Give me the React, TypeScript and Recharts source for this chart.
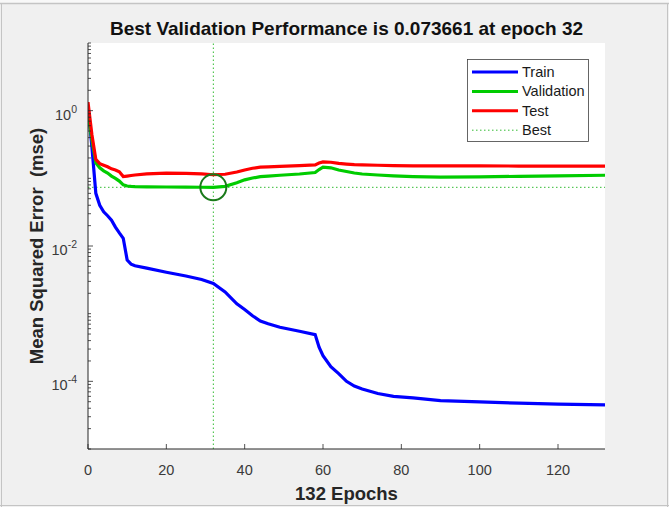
import React from 'react';
import {
  LineChart,
  Line,
  XAxis,
  YAxis,
  CartesianGrid,
  ReferenceLine,
  ReferenceDot,
} from 'recharts';

// ---------- data ----------
const epochs = [
  0, 1, 2, 3, 4, 5, 6, 7, 8, 9, 10, 11, 12, 15, 20, 25, 29, 32, 35, 38, 40, 42, 44, 46, 49, 54,
  58, 59, 60, 62, 64, 66, 68, 70, 74, 78, 83, 90, 100, 110, 120, 132,
];

const trainMse = [
  1.2, 0.29, 0.06, 0.04, 0.032, 0.028, 0.024, 0.019, 0.0156, 0.013, 0.0062, 0.0054, 0.0051,
  0.0047, 0.0041, 0.0036, 0.0032, 0.0028, 0.0021, 0.0014, 0.00115, 0.00093, 0.00078, 0.00071,
  0.00063, 0.00055, 0.00049, 0.00032, 0.00024, 0.000165, 0.00013, 0.0001, 0.000085, 0.000077,
  0.000066, 0.00006, 0.000057, 0.000052, 0.0000497, 0.0000475, 0.000046, 0.000045,
];

const validationMse = [
  0.9, 0.37, 0.17, 0.143, 0.129, 0.12, 0.108, 0.1, 0.091, 0.08, 0.077, 0.076, 0.0755, 0.075,
  0.0745, 0.074, 0.0738, 0.073661, 0.076, 0.086, 0.095, 0.101, 0.106, 0.108, 0.111, 0.116, 0.122,
  0.135, 0.146, 0.143, 0.133, 0.126, 0.12, 0.116, 0.112, 0.109, 0.106, 0.104, 0.105, 0.107,
  0.109, 0.111,
];

const testMse = [
  1.34, 0.44, 0.19, 0.165, 0.156, 0.148, 0.138, 0.133, 0.125, 0.106, 0.108, 0.11, 0.112, 0.116,
  0.119, 0.118, 0.116, 0.113, 0.115, 0.124, 0.133, 0.141, 0.146, 0.148, 0.15, 0.154, 0.158,
  0.168, 0.175, 0.173, 0.166, 0.162, 0.159, 0.158, 0.156, 0.154, 0.153, 0.153, 0.153, 0.152,
  0.151, 0.151,
];

const bestEpoch = 32;
const bestPerf = 0.073661;

const xTicks = [0, 20, 40, 60, 80, 100, 120];
const yDecades = [-5, -4, -3, -2, -1, 0];
const yLabelExponents = [0, -2, -4];
const yTicks: number[] = [];
yDecades.forEach((d) => {
  for (let m = 1; m <= 9; m++) yTicks.push(m * Math.pow(10, d));
});
yTicks.push(10);

const seriesNames = ['Train', 'Validation', 'Test', 'Best'];
const titleText = 'Best Validation Performance is 0.073661 at epoch 32';
const xLabel = '132 Epochs';
const yLabel = 'Mean Squared Error  (mse)';

const data = epochs.map((e, i) => ({
  epoch: e,
  train: trainMse[i],
  validation: validationMse[i],
  test: testMse[i],
}));

// ---------- styles ----------
const FONT = '"Liberation Sans", Arial, Helvetica, sans-serif';
const AX = '#262626';
const TICKTXT = '#3a3a3a';
const BLUE = '#0000ff';
const GREEN = '#00cc00';
const RED = '#ff0000';
const BEST = '#33bb33';
const CIRCLE = '#1a7a1a';

const XTick = (props: any) => {
  const { x, y, payload } = props;
  return (
    <g>
      <line x1={x} x2={x} y1={y} y2={y - 5} stroke={AX} strokeWidth={0.8} />
      <text x={x} y={y + 26} textAnchor="middle" fontSize={14.5} fill={TICKTXT} fontFamily={FONT}>
        {payload.value}
      </text>
    </g>
  );
};

const YTick = (props: any) => {
  const { x, y, payload } = props;
  const v = payload.value as number;
  const lg = Math.log10(v);
  const exp = Math.round(lg);
  const isDecade = Math.abs(lg - exp) < 1e-6;
  const labeled = isDecade && yLabelExponents.includes(exp);
  return (
    <g>
      <line x1={x} x2={x + (labeled ? 5 : 3)} y1={y} y2={y} stroke={AX} strokeWidth={0.8} />
      {labeled && (
        <text x={x - 11} y={y + 9} textAnchor="end" fontSize={14.5} fill={TICKTXT} fontFamily={FONT}>
          10
          <tspan dy={-7} fontSize={10.5}>
            {String(exp)}
          </tspan>
        </text>
      )}
    </g>
  );
};

export default function App() {
  const legendColors = [BLUE, GREEN, RED, BEST];
  return (
    <div
      style={{
        position: 'absolute',
        left: 0,
        top: 0,
        width: 669,
        height: 507,
        background: '#f0f0f0',
        fontFamily: FONT,
      }}
    >
      <LineChart
        width={669}
        height={507}
        data={data}
        margin={{ top: 43, right: 64, bottom: 0, left: 0 }}
      >
        <CartesianGrid fill="#ffffff" horizontal={false} vertical={false} stroke="none" />
        <XAxis
          dataKey="epoch"
          type="number"
          domain={[0, 132]}
          ticks={xTicks}
          interval={0}
          height={58}
          tickSize={0}
          tickMargin={0}
          tickLine={false}
          tick={<XTick />}
          axisLine={{ stroke: AX, strokeWidth: 1 }}
          allowDataOverflow
        />
        <YAxis
          type="number"
          scale="log"
          domain={[1e-5, 10]}
          ticks={yTicks}
          interval={0}
          width={88}
          tickSize={0}
          tickMargin={0}
          tickLine={false}
          tick={<YTick />}
          axisLine={{ stroke: AX, strokeWidth: 1 }}
          allowDataOverflow
        />
        <ReferenceLine
          x={bestEpoch}
          stroke={BEST}
          strokeWidth={1}
          strokeDasharray="1.5 2.5"
        />
        <ReferenceLine
          y={bestPerf}
          stroke={BEST}
          strokeWidth={1}
          strokeDasharray="1.5 2.5"
        />
        <Line
          dataKey="train"
          type="linear"
          stroke={BLUE}
          strokeWidth={3.2}
          dot={false}
          isAnimationActive={false}
        />
        <Line
          dataKey="validation"
          type="linear"
          stroke={GREEN}
          strokeWidth={3.2}
          dot={false}
          isAnimationActive={false}
        />
        <Line
          dataKey="test"
          type="linear"
          stroke={RED}
          strokeWidth={3.2}
          dot={false}
          isAnimationActive={false}
        />
        <ReferenceDot
          x={bestEpoch}
          y={bestPerf}
          r={13}
          fill="none"
          stroke={CIRCLE}
          strokeWidth={2}
        />
      </LineChart>
      <svg
        width={669}
        height={507}
        style={{ position: 'absolute', left: 0, top: 0, pointerEvents: 'none' }}
      >
        {/* window frame */}
        <rect x={0} y={0} width={669} height={3} fill="#f8f8f8" />
        <line x1={0} x2={669} y1={3.5} y2={3.5} stroke="#c4c4c4" strokeWidth={1.5} />
        <line x1={1.5} x2={1.5} y1={3} y2={507} stroke="#c4c4c4" strokeWidth={1} />
        <line x1={667.5} x2={667.5} y1={3} y2={507} stroke="#c4c4c4" strokeWidth={1} />
        <line x1={0} x2={669} y1={505.5} y2={505.5} stroke="#c4c4c4" strokeWidth={1} />
        {/* title */}
        <text
          x={346.5}
          y={35}
          textAnchor="middle"
          fontSize={19}
          fontWeight="bold"
          fill="#111"
          fontFamily={FONT}
        >
          {titleText}
        </text>
        <text
          x={346.5}
          y={500}
          textAnchor="middle"
          fontSize={18.5}
          fontWeight="bold"
          fill={AX}
          fontFamily={FONT}
        >
          {xLabel}
        </text>
        <text
          x={42.5}
          y={246}
          transform="rotate(-90, 42.5, 246)"
          textAnchor="middle"
          fontSize={18.5}
          fontWeight="bold"
          fill={AX}
          fontFamily={FONT}
          style={{ whiteSpace: 'pre' }}
        >
          {yLabel}
        </text>
        {/* legend */}
        <rect x={467.5} y={59.5} width={121} height={82} fill="#ffffff" stroke="#404040" strokeWidth={0.8} />
        {seriesNames.map((name, i) => {
          const cy = 72 + i * 19.4;
          const isBest = name === 'Best';
          return (
            <g key={name}>
              <line
                x1={472}
                x2={518}
                y1={cy}
                y2={cy}
                stroke={legendColors[i]}
                strokeWidth={isBest ? 1 : 3}
                strokeDasharray={isBest ? '1.5 2.5' : undefined}
              />
              <text x={522} y={cy + 5} fontSize={14.5} fill="#1a1a1a" fontFamily={FONT}>
                {name}
              </text>
            </g>
          );
        })}
      </svg>
    </div>
  );
}
